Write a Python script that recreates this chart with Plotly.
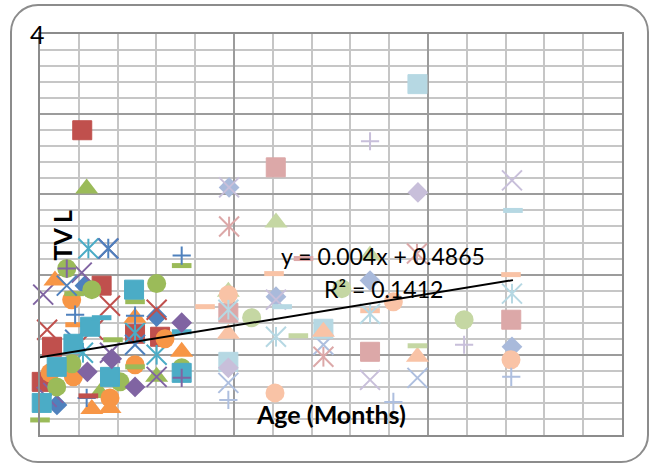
import plotly.graph_objects as go

# ---------------------------------------------------------------
# Thyroid volume (TV, mL) against age (months); one list pair per series
# ---------------------------------------------------------------

# saturated series (younger group)
dia_blue_age = [90.3, 119.5, 78.9]
dia_blue_tv = [1.49, 1.18, 0.30]

sq_red_age = [89.2, 97.1, 76.9, 110.7, 120.9, 72.7, 70.8]
sq_red_tv = [3.04, 1.49, 0.88, 1.01, 0.98, 0.53, 0.37]

tri_green_age = [91.0, 96.4, 119.5]
tri_green_tv = [2.46, 0.42, 0.58]

x_purple_age = [89.0, 73.3, 100.5, 74.7, 119.5, 77.4, 99.8]
x_purple_tv = [1.62, 1.40, 0.82, 0.38, 0.58, 0.42, 1.86]

star_aqua_age = [91.7, 110.7, 119.5, 89.5]
star_aqua_tv = [1.86, 1.02, 0.80, 0.82]

star_blue_age = [99.8]
star_blue_tv = [1.86]

circ_orange_age = [84.9, 122.9, 110.7, 70.8, 76.1, 85.6, 100.5]
circ_orange_tv = [1.35, 0.96, 0.70, 0.57, 0.62, 0.58, 0.37]

tri_orange_age = [78.1, 110.7, 129.7, 93.1, 100.5]
tri_orange_tv = [1.54, 1.17, 0.83, 0.26, 0.27]

dash_orange_age = [86.3]
dash_orange_tv = [1.10]

circ_green_age = [82.9, 93.1, 119.5, 85.0, 129.7, 104.6, 78.8]
circ_green_tv = [1.66, 1.45, 1.51, 0.71, 0.67, 0.53, 0.48]

dash_green_age = [129.7, 110.7, 85.9, 101.7, 72.0, 110.7]
dash_green_tv = [1.69, 1.33, 1.41, 0.95, 0.15, 0.68]

plus_blue_age = [129.7, 86.3, 110.7, 91.0]
plus_blue_tv = [1.79, 1.20, 1.19, 0.37]

x_red_age = [100.5, 74.9, 93.6, 119.5]
x_red_tv = [1.29, 1.05, 1.05, 1.25]

x_blue_age = [82.9, 86.3, 71.2, 110.7]
x_blue_tv = [1.49, 0.95, 0.94, 0.90]

sq_aqua_age = [110.3, 92.4, 85.6, 100.5, 129.7, 72.7, 78.8]
sq_aqua_tv = [1.45, 1.08, 0.91, 0.58, 0.62, 0.32, 0.68]

dash_aqua_age = [97.1, 129.7]
dash_aqua_tv = [1.17, 1.03]

dia_purple_age = [129.7, 101.2, 91.3, 110.7]
dia_purple_tv = [1.12, 0.76, 0.63, 0.48]

plus_purple_age = [82.9, 129.7]
plus_purple_tv = [1.66, 0.57]

dash_red_age = [91.7]
dash_red_tv = [0.39]

# light series (older group)
dia_ltblue_age = [149.0, 168.1, 206.4, 264.2]
dia_ltblue_tv = [2.47, 1.38, 1.54, 0.88]

x_lavender_age = [149.0, 264.2, 168.1, 206.4]
x_lavender_tv = [2.47, 2.54, 1.35, 0.55]

x_ltblue_age = [148.7, 225.7, 187.4]
x_ltblue_tv = [0.52, 0.57, 0.90]

sq_pink_age = [168.0, 206.4, 263.9, 148.7]
sq_pink_tv = [2.67, 0.83, 1.15, 1.22]

star_pink_age = [149.0, 225.5, 187.4]
star_pink_tv = [2.08, 1.81, 0.78]

tri_ltgreen_age = [168.1, 206.4, 148.7]
tri_ltgreen_tv = [2.12, 1.79, 1.43]

sq_ltaqua_age = [225.7, 148.7, 187.4]
sq_ltaqua_tv = [3.50, 0.73, 1.06]

plus_lavender_age = [206.4, 244.7, 158.2]
plus_lavender_tv = [2.93, 0.90, 1.17]

dia_lavender_age = [225.9, 148.7]
dia_lavender_tv = [2.42, 0.67]

dash_ltaqua_age = [264.6, 170.6]
dash_ltaqua_tv = [2.24, 1.28]

circ_peach_age = [148.7, 167.7, 215.9, 263.8]
circ_peach_tv = [1.40, 0.42, 1.33, 0.75]

dash_peach_age = [139.2, 167.3, 263.8, 206.4]
dash_peach_tv = [1.28, 1.61, 1.60, 1.24]

tri_peach_age = [148.7, 225.7, 187.4]
tri_peach_tv = [1.01, 0.78, 1.03]

circ_ltgreen_age = [158.2, 194.9, 244.7]
circ_ltgreen_tv = [1.17, 1.46, 1.15]

dash_ltgreen_age = [177.2, 225.7]
dash_ltgreen_tv = [0.99, 0.89]

star_ltaqua_age = [148.7, 168.1, 206.4, 264.2]
star_ltaqua_tv = [1.25, 0.98, 1.21, 1.41]

plus_ltblue_age = [148.7, 215.9, 263.9]
plus_ltblue_tv = [0.35, 0.33, 0.58]

dash_pink_age = [179.3]
dash_pink_tv = [1.76]

# linear trend reported on the chart
SLOPE = 0.004
INTERCEPT = 0.4865
R_SQUARED = 0.1412

# axis ranges and tick labels
AGE_RANGE = [72, 309]
TV_RANGE = [0, 4]
TV_LABELS = [4]

# ---------------------------------------------------------------
# marker styles
# ---------------------------------------------------------------
BLUE, RED, GREEN, PURPLE, AQUA, ORANGE = (
    "#4F81BD", "#C0504D", "#9BBB59", "#8064A2", "#4BACC6", "#F79646")
LT_BLUE, PINK, LT_GREEN, LAVENDER, LT_AQUA, PEACH = (
    "#A9BADB", "#DCA8A8", "#C5D7A3", "#C8BFDA", "#B6D8E3", "#F9C3A6")
LT_BLUE2 = "#AEBFDF"

SHAPES = {
    "diamond": [("diamond", 16, 0)],
    "square": [("square", 19, 1)],
    "triangle": [("triangle-up", 20, 0)],
    "x": [("x-thin-open", 20, 2)],
    "star": [("x-thin-open", 20, 2), ("line-ns-open", 14, 2)],
    "circle": [("circle", 19, 0)],
    "plus": [("cross-thin-open", 13, 2)],
    "dash": [("line-ew-open", 14, 5)],
}

series = [
    (dia_blue_age, dia_blue_tv, "diamond", BLUE),
    (sq_red_age, sq_red_tv, "square", RED),
    (tri_green_age, tri_green_tv, "triangle", GREEN),
    (x_purple_age, x_purple_tv, "x", PURPLE),
    (star_aqua_age, star_aqua_tv, "star", AQUA),
    (star_blue_age, star_blue_tv, "star", BLUE),
    (circ_orange_age, circ_orange_tv, "circle", ORANGE),
    (tri_orange_age, tri_orange_tv, "triangle", ORANGE),
    (dash_orange_age, dash_orange_tv, "dash", ORANGE),
    (circ_green_age, circ_green_tv, "circle", GREEN),
    (dash_green_age, dash_green_tv, "dash", GREEN),
    (plus_blue_age, plus_blue_tv, "plus", BLUE),
    (x_red_age, x_red_tv, "x", RED),
    (x_blue_age, x_blue_tv, "x", BLUE),
    (sq_aqua_age, sq_aqua_tv, "square", AQUA),
    (dash_aqua_age, dash_aqua_tv, "dash", AQUA),
    (dia_purple_age, dia_purple_tv, "diamond", PURPLE),
    (plus_purple_age, plus_purple_tv, "plus", PURPLE),
    (dash_red_age, dash_red_tv, "dash", RED),
    (dia_ltblue_age, dia_ltblue_tv, "diamond", LT_BLUE),
    (x_lavender_age, x_lavender_tv, "x", LAVENDER),
    (x_ltblue_age, x_ltblue_tv, "x", LT_BLUE2),
    (sq_pink_age, sq_pink_tv, "square", PINK),
    (star_pink_age, star_pink_tv, "star", PINK),
    (tri_ltgreen_age, tri_ltgreen_tv, "triangle", LT_GREEN),
    (sq_ltaqua_age, sq_ltaqua_tv, "square", LT_AQUA),
    (plus_lavender_age, plus_lavender_tv, "plus", LAVENDER),
    (dia_lavender_age, dia_lavender_tv, "diamond", LAVENDER),
    (dash_ltaqua_age, dash_ltaqua_tv, "dash", LT_AQUA),
    (circ_peach_age, circ_peach_tv, "circle", PEACH),
    (dash_peach_age, dash_peach_tv, "dash", PEACH),
    (tri_peach_age, tri_peach_tv, "triangle", PEACH),
    (circ_ltgreen_age, circ_ltgreen_tv, "circle", LT_GREEN),
    (dash_ltgreen_age, dash_ltgreen_tv, "dash", LT_GREEN),
    (star_ltaqua_age, star_ltaqua_tv, "star", LT_AQUA),
    (plus_ltblue_age, plus_ltblue_tv, "plus", LT_BLUE2),
    (dash_pink_age, dash_pink_tv, "dash", PINK),
]

fig = go.Figure()
for ages, tvs, shape, color in series:
    for symbol, size, lw in SHAPES[shape]:
        fig.add_trace(go.Scatter(
            x=ages, y=tvs, mode="markers", cliponaxis=False,
            hoverinfo="skip", showlegend=False,
            marker=dict(symbol=symbol, size=size, color=color,
                        line=dict(width=lw, color=color)),
        ))

# trend line over the span of the data
all_ages = [a for s in series for a in s[0]]
trend_x = [min(all_ages), max(all_ages)]
trend_y = [SLOPE * a + INTERCEPT for a in trend_x]
fig.add_trace(go.Scatter(x=trend_x, y=trend_y, mode="lines", showlegend=False,
                         hoverinfo="skip", line=dict(color="black", width=2)))

# ---------------------------------------------------------------
# layout
# ---------------------------------------------------------------
W, H = 650, 464
ML, MR, MT, MB = 40, 28, 34, 29
PW, PH = W - ML - MR, H - MT - MB


def to_paper(px, py):
    return (px - ML) / PW, (H - MB - py) / PH


def rounded_frame(x0, y0, x1, y1, r):
    k = 0.5523 * r
    pts = [
        ("M", [(x0 + r, y0)]),
        ("L", [(x1 - r, y0)]),
        ("C", [(x1 - r + k, y0), (x1, y0 + r - k), (x1, y0 + r)]),
        ("L", [(x1, y1 - r)]),
        ("C", [(x1, y1 - r + k), (x1 - r + k, y1), (x1 - r, y1)]),
        ("L", [(x0 + r, y1)]),
        ("C", [(x0 + r - k, y1), (x0, y1 - r + k), (x0, y1 - r)]),
        ("L", [(x0, y0 + r)]),
        ("C", [(x0, y0 + r - k), (x0 + r - k, y0), (x0 + r, y0)]),
    ]
    out = []
    for cmd, ps in pts:
        coords = " ".join("%.5f,%.5f" % to_paper(px, py) for px, py in ps)
        out.append(cmd + coords)
    return " ".join(out) + " Z"


FONT = "Lato, 'Open Sans', sans-serif"
x_major = (AGE_RANGE[1] - AGE_RANGE[0]) / 3
y_major = (TV_RANGE[1] - TV_RANGE[0]) / 5

fig.update_layout(
    width=W, height=H,
    margin=dict(l=ML, r=MR, t=MT, b=MB, pad=0),
    paper_bgcolor="white", plot_bgcolor="white",
    font=dict(family=FONT, color="black"),
    xaxis=dict(
        range=AGE_RANGE, tick0=AGE_RANGE[0], dtick=x_major,
        showticklabels=False, ticks="", zeroline=False,
        showgrid=True, gridcolor="#9C9C9C", gridwidth=2,
        minor=dict(tick0=AGE_RANGE[0], dtick=x_major / 5, showgrid=True,
                   gridcolor="#C6C6C6", gridwidth=2, ticks=""),
        showline=True, linecolor="#8C8C8C", linewidth=2, mirror=True,
    ),
    yaxis=dict(
        range=TV_RANGE, tick0=TV_RANGE[0], dtick=y_major,
        showticklabels=False, ticks="", zeroline=False,
        showgrid=True, gridcolor="#9C9C9C", gridwidth=2,
        minor=dict(tick0=TV_RANGE[0], dtick=y_major / 5, showgrid=True,
                   gridcolor="#C6C6C6", gridwidth=2, ticks=""),
        showline=True, linecolor="#8C8C8C", linewidth=2, mirror=True,
    ),
    shapes=[dict(type="path", xref="paper", yref="paper",
                 path=rounded_frame(11, 5, 648, 462, 27),
                 line=dict(color="#8C8C8C", width=2), layer="below")],
)

annotations = []
for v in TV_LABELS:
    lx, ly = to_paper(37.5, 34.5)
    annotations.append(dict(x=lx, y=ly, xref="paper", yref="paper",
                            text=str(v), showarrow=False, xanchor="center",
                            yanchor="middle",
                            font=dict(family="Lato", size=25, color="black")))

eq_text = f"y = {SLOPE}x + {INTERCEPT}"
r2_text = f"R² = {R_SQUARED}"
ex, ey = to_paper(383, 256)
rx, ry = to_paper(383, 289)
annotations += [
    dict(x=ex, y=ey, xref="paper", yref="paper", text=eq_text, showarrow=False,
         xanchor="center", yanchor="middle", font=dict(size=23)),
    dict(x=rx, y=ry, xref="paper", yref="paper", text=r2_text, showarrow=False,
         xanchor="center", yanchor="middle", font=dict(size=23)),
]
tx, ty = to_paper(330.5, 414)
annotations.append(dict(x=tx, y=ty, xref="paper", yref="paper",
                        text="<b>Age (Months)</b>", showarrow=False,
                        xanchor="center", yanchor="middle", font=dict(size=25)))
vx, vy = to_paper(61.5, 235)
annotations.append(dict(x=vx, y=vy, xref="paper", yref="paper",
                        text="<b>TV L</b>", textangle=-90, showarrow=False,
                        xanchor="center", yanchor="middle", font=dict(size=25)))
fig.update_layout(annotations=annotations)

fig.write_html("out.html", config={"displayModeBar": False})
